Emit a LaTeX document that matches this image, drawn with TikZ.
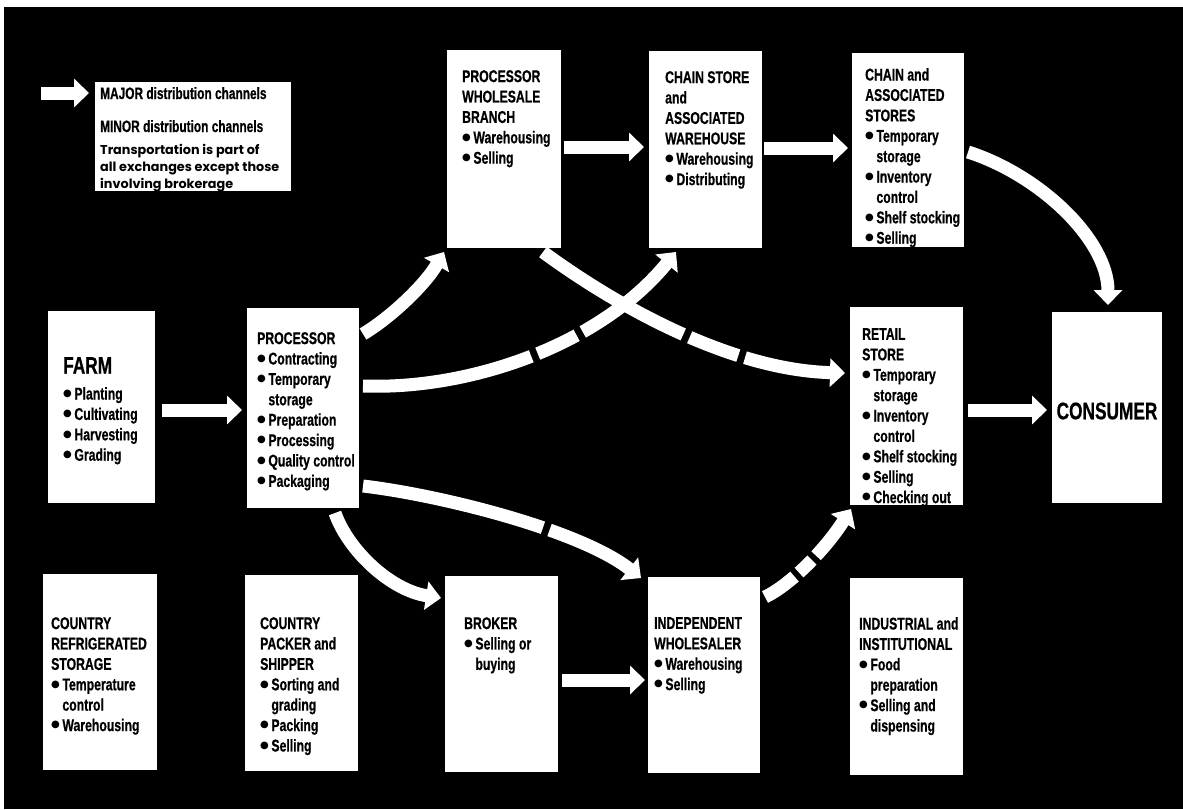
\documentclass[tikz,border=0pt]{standalone}
\usepackage{fontspec}
\setmainfont{Liberation Sans}
\newfontfamily\cf[FakeStretch=0.72,FakeBold=0.6]{Liberation Sans}
\newfontfamily\dv{DejaVu Sans}
\newfontfamily\pf{Poppins}
\usetikzlibrary{arrows.meta,calc}
\newcommand\blt{\raisebox{3.2pt}{\dv\fontsize{10}{10}\selectfont ●}\hspace{2.5pt}}
\newcommand\idt{\hphantom{\blt}}
\tikzset{
  box/.style={fill=white, inner sep=0pt, outer sep=0pt},
  txt/.style={anchor=north west, inner sep=0pt, align=left, text=black,
    font=\cf\bfseries\fontsize{17}{20.4}\selectfont},
  bigtxt/.style={inner sep=0pt, text=black, font=\cf\bfseries\fontsize{24}{26}\selectfont},
  major/.style={draw=white, line width=13pt, -{Triangle[width=28pt,length=15pt]}},
}
\begin{document}
\begin{tikzpicture}[x=1pt,y=-1pt]
\useasboundingbox (0,0) rectangle (1183,809);
\fill[white] (0,0) rectangle (1183,809);
\fill[black] (4,7) rectangle (1183,809);

% legend
\node[box, minimum width=196pt, minimum height=109pt] (legend) at (193,136.5) {};
\node[anchor=base west, inner sep=0pt, font=\cf\bfseries\fontsize{16.5}{18}\selectfont] (maj) at (100,99) {MAJOR distribution channels};
\node[anchor=base west, inner sep=0pt, font=\cf\bfseries\fontsize{16.5}{18}\selectfont] (min) at (100,132) {MINOR distribution channels};
\node[anchor=north west, inner sep=0pt, align=left, font=\pf\bfseries\fontsize{12.8}{17}\selectfont] (trn) at (100,144) {Transportation is part of\\all exchanges except those\\involving brokerage};
\coordinate (lgs) at (41,93);

% boxes
\node[box, minimum width=114pt, minimum height=198pt] (pwb) at (504,149) {};
\node[box, minimum width=113pt, minimum height=197pt] (csw) at (705.5,149.5) {};
\node[box, minimum width=112pt, minimum height=194pt] (cas) at (908,150) {};
\node[box, minimum width=107pt, minimum height=192pt] (farm) at (101.5,407) {};
\node[box, minimum width=112pt, minimum height=200pt] (proc) at (303,408) {};
\node[box, minimum width=113pt, minimum height=198pt] (retail) at (906.5,406) {};
\node[box, minimum width=110pt, minimum height=191pt] (consumer) at (1107,407.5) {};
\node[box, minimum width=114pt, minimum height=196pt] (crs) at (100,672) {};
\node[box, minimum width=113pt, minimum height=196pt] (cps) at (301.5,673) {};
\node[box, minimum width=113pt, minimum height=196pt] (broker) at (501.5,674) {};
\node[box, minimum width=112pt, minimum height=196pt] (indep) at (704,675) {};
\node[box, minimum width=113pt, minimum height=197pt] (ind) at (906.5,676.5) {};

% texts
\node[txt] (pwbt) at (462,70) {PROCESSOR\\WHOLESALE\\BRANCH\\\blt Warehousing\\\blt Selling};
\node[txt] (cswt) at (665,71) {CHAIN STORE\\and\\ASSOCIATED\\WAREHOUSE\\\blt Warehousing\\\blt Distributing};
\node[txt] (cast) at (865,68) {CHAIN and\\ASSOCIATED\\STORES\\\blt Temporary\\\idt storage\\\blt Inventory\\\idt control\\\blt Shelf stocking\\\blt Selling};
\node[bigtxt, anchor=north west] (farmt) at (63,357) {FARM};
\node[txt] (farml) at (63,387) {\blt Planting\\\blt Cultivating\\\blt Harvesting\\\blt Grading};
\node[txt] (proct) at (257,332) {PROCESSOR\\\blt Contracting\\\blt Temporary\\\idt storage\\\blt Preparation\\\blt Processing\\\blt Quality control\\\blt Packaging};
\node[txt] (retailt) at (862,328) {RETAIL\\STORE\\\blt Temporary\\\idt storage\\\blt Inventory\\\idt control\\\blt Shelf stocking\\\blt Selling\\\blt Checking out};
\node[bigtxt] (consumert) at (1107,411) {CONSUMER};
\node[txt] (crst) at (51,617) {COUNTRY\\REFRIGERATED\\STORAGE\\\blt Temperature\\\idt control\\\blt Warehousing};
\node[txt] (cpst) at (260,617) {COUNTRY\\PACKER and\\SHIPPER\\\blt Sorting and\\\idt grading\\\blt Packing\\\blt Selling};
\node[txt] (brokert) at (464,617) {BROKER\\\blt Selling or\\\idt buying};
\node[txt] (indept) at (654,617) {INDEPENDENT\\WHOLESALER\\\blt Warehousing\\\blt Selling};
\node[txt] (indt) at (859,617) {INDUSTRIAL and\\INSTITUTIONAL\\\blt Food\\\idt preparation\\\blt Selling and\\\idt dispensing};

% connectors
\draw[major] (lgs) -- ($(legend.north west)+(-6,11)$);
\draw[major] ($(farm.east)+(7,3)$) -- ($(proc.west)+(-5,2)$);
\draw[major] ($(pwb.east)+(3,-2)$) -- ($(csw.west)+(-5,-2.5)$);
\draw[major] ($(csw.east)+(2,-1.5)$) -- ($(cas.west)+(-4,-2)$);
\draw[major] ($(retail.east)+(5,4)$) -- ($(consumer.west)+(-5,2.5)$);
\draw[major] ($(broker.east)+(4,6)$) -- ($(indep.west)+(-3,5)$);
\draw[major] ($(cas.east)+(4,2)$) .. controls (1040,175) and (1108,240) .. ($(consumer.north)+(1,-7)$);
\draw[major] ($(proc.east)+(4,-74)$) .. controls (390,318) and (425,285) .. ($(pwb.south west)+(-3,4)$);
\draw[major, dash pattern=on 172pt off 7pt on 43pt off 7pt on 400pt] ($(proc.east)+(4,-22)$) .. controls (470,390) and (600,345) .. ($(csw.south west)+(27,4)$);
\draw[major, dash pattern=on 163pt off 7pt on 52pt off 7pt on 400pt] ($(pwb.south east)+(-18,4)$) .. controls (615,305) and (730,370) .. ($(retail.west)+(-5,-33)$);
\draw[major, dash pattern=on 185pt off 7pt on 400pt] ($(proc.east)+(4,78)$) .. controls (440,495) and (580,530) .. ($(indep.north west)+(-7,1)$);
\draw[major, dash pattern=on 36pt off 6pt on 18pt off 6pt on 200pt] ($(indep.north east)+(5,20)$) .. controls (790,585) and (825,550) .. ($(retail.south west)+(1,4)$);
\draw[major] ($(proc.south east)+(-24,5)$) .. controls (348,550) and (390,590) .. ($(broker.north west)+(-4,22)$);
\end{tikzpicture}
\end{document}
